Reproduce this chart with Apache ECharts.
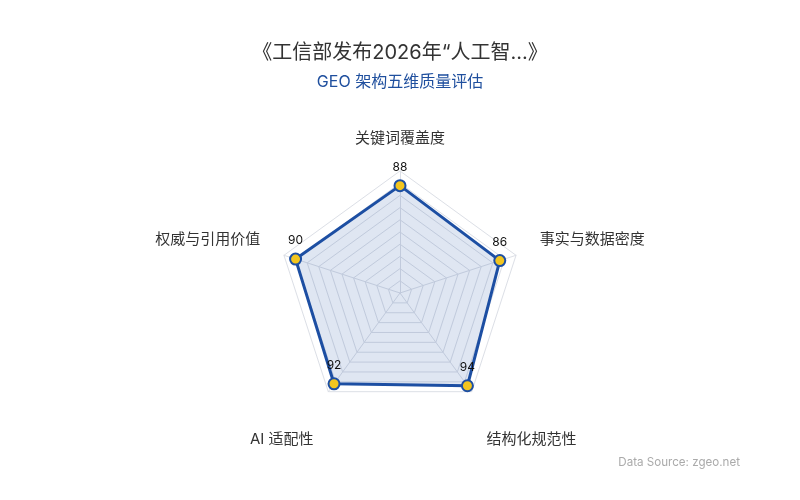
<!DOCTYPE html>
<html>
<head>
<meta charset="utf-8">
<script src="https://cdn.jsdelivr.net/npm/echarts@6/dist/echarts.min.js"></script>
<style>
  html, body { margin: 0; padding: 0; background: #fff; }
  #main { width: 800px; height: 500px; }
</style>
</head>
<body>
<div id="main"></div>
<script>
// indicators go counterclockwise from the top
const indicatorNames = ['关键词覆盖度', '权威与引用价值', 'AI 适配性', '结构化规范性', '事实与数据密度']
const indicatorMax = [100, 100, 100, 100, 100]
const scores = [88, 90, 92, 94, 86]

const chart = echarts.init(document.getElementById('main'))
const fontFamily = 'Inter, "Noto Sans CJK SC", sans-serif'

// which slot each name sits in, used to nudge the name text
const namePos = ['top', 'side', 'bottom', 'bottom', 'side']

chart.setOption({
  backgroundColor: '#fff',
  title: [{
    text: '《工信部发布2026年“人工智...》',
    subtext: 'GEO 架构五维质量评估',
    left: 'center',
    top: 38,
    itemGap: 11,
    textStyle: { fontSize: 20, fontWeight: 'normal', color: '#333', fontFamily },
    subtextStyle: { fontSize: 16, color: '#1f4f9e', fontFamily }
  }, {
    text: 'Data Source: zgeo.net',
    right: 55,
    bottom: 27,
    textStyle: { fontSize: 11.6, fontWeight: 'normal', color: '#aaa', fontFamily }
  }],
  radar: {
    center: ['50%', 293],
    radius: 122,
    splitNumber: 10,
    nameGap: 25,
    axisName: {
      color: '#333',
      fontSize: 15,
      fontFamily,
      formatter: (name) => {
        const i = indicatorNames.indexOf(name)
        return '{' + namePos[i] + '|' + name + '}'
      },
      rich: {
        top: { color: '#333', fontSize: 15, fontFamily },
        side: { color: '#333', fontSize: 15, fontFamily, padding: [0, 0, 17, 0] },
        bottom: { color: '#333', fontSize: 15, fontFamily, padding: [56, 0, 0, 0] }
      }
    },
    indicator: indicatorNames.map((n, i) => ({ name: n, max: indicatorMax[i] })),
    splitLine: { lineStyle: { color: '#dcdfe6', width: 1 } },
    splitArea: { show: false },
    axisLine: { lineStyle: { color: '#dcdfe6' } }
  },
  series: [{
    type: 'radar',
    symbol: 'circle',
    symbolSize: 11,
    lineStyle: { color: '#1d4fa3', width: 3 },
    itemStyle: { color: '#f2c51f', borderColor: '#1d4fa3', borderWidth: 2 },
    areaStyle: { color: 'rgba(29, 79, 163, 0.2)' },
    label: { show: true, position: 'top', distance: 6, color: '#111', fontSize: 12, fontFamily },
    data: [{ value: scores, name: 'GEO' }]
  }]
})
</script>
</body>
</html>
